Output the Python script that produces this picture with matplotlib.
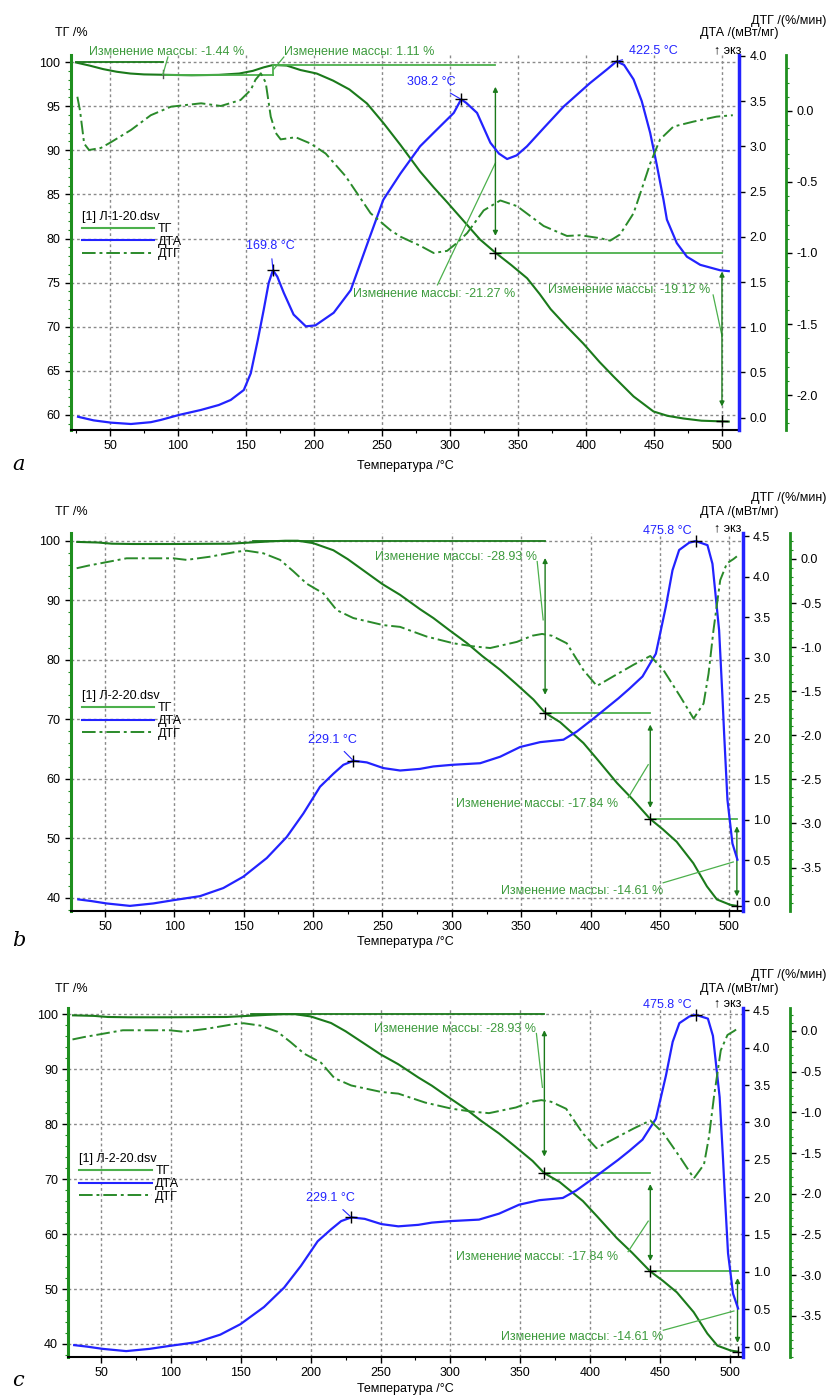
import matplotlib
matplotlib.use('Agg')
import matplotlib.pyplot as plt
from matplotlib.ticker import MultipleLocator, FormatStrFormatter
from matplotlib.lines import Line2D

plt.rcParams['font.family'] = ['Liberation Sans', 'DejaVu Sans']
plt.rcParams['axes.unicode_minus'] = False

W, H = 829, 1396

# ---------- образец Л-1-20 (панель a) ----------
a_tg_t = [25, 35, 45, 55, 65, 75, 89, 110, 130, 145, 155, 163, 170, 180, 190, 202, 214,
          226, 239, 251, 263.6, 278, 288, 298, 310, 322, 333.4, 345, 356.7, 366, 374,
          386, 398, 410, 420, 435, 449.6, 460, 471.7, 485, 498.6, 505]
a_tg = [99.95, 99.6, 99.2, 98.9, 98.7, 98.6, 98.56, 98.5, 98.55, 98.7, 99.0, 99.4, 99.67,
        99.6, 99.1, 98.7, 97.9, 96.9, 95.3, 93.1, 90.6, 87.6, 85.8, 84.1, 82.0, 79.9,
        78.4, 77.0, 75.5, 73.7, 72.0, 70.0, 68.1, 66.0, 64.4, 62.1, 60.4, 59.9, 59.6,
        59.35, 59.28, 59.25]

a_dta_t = [26.5, 38, 50.7, 65.4, 80, 87.4, 100.7, 116.8, 130, 138.8, 148.4, 153.5, 158.7,
           163, 166.7, 169.8, 173, 177.8, 185, 194, 201, 214.5, 227, 239.4, 251, 263.6,
           278, 288, 302.8, 308.2, 312, 319.9, 329.7, 336, 342, 349, 356.6, 370, 383.6,
           403, 415.4, 422.5, 428, 435, 441, 447.2, 452, 457, 459.5, 466.8, 474.2, 484,
           498.6, 505]
a_dta = [0.01, -0.03, -0.055, -0.07, -0.05, -0.025, 0.03, 0.085, 0.14, 0.196, 0.306, 0.49,
         0.86, 1.19, 1.49, 1.63, 1.56, 1.38, 1.14, 1.01, 1.02, 1.16, 1.41, 1.93, 2.41, 2.70,
         3.0, 3.15, 3.37, 3.52, 3.48, 3.37, 3.04, 2.92, 2.86, 2.90, 3.0, 3.22, 3.44, 3.70,
         3.85, 3.94, 3.90, 3.74, 3.5, 3.15, 2.8, 2.41, 2.19, 1.93, 1.78, 1.69, 1.63, 1.62]

a_dtg_t = [26, 28, 31, 34.6, 43.4, 50.7, 65.4, 80, 94.8, 117, 131.5, 146, 153.5, 157, 160.9,
           164.5, 168.2, 171.9, 175.5, 186.5, 197.6, 208.6, 223.3, 241.6, 256.3, 263.6,
           278.3, 288, 297.9, 305, 312.6, 324.8, 337, 349.3, 368.9, 386, 396, 410.5, 417.8,
           425, 435, 441, 447.2, 454.5, 464.3, 479, 496, 508]
a_dtg = [0.10, 0.0, -0.23, -0.275, -0.26, -0.22, -0.134, -0.03, 0.03, 0.054, 0.035, 0.077,
         0.148, 0.22, 0.265, 0.2, -0.04, -0.155, -0.2, -0.185, -0.23, -0.30, -0.46, -0.72,
         -0.84, -0.885, -0.95, -1.0, -0.985, -0.93, -0.86, -0.70, -0.63, -0.67, -0.81,
         -0.88, -0.875, -0.896, -0.913, -0.87, -0.72, -0.55, -0.37, -0.20, -0.11, -0.075,
         -0.04, -0.03]

a_peaks_t = [169.8, 308.2, 422.5]
a_peaks_v = [1.63, 3.52, 3.94]
a_peak_labels = ['169.8 °C', '308.2 °C', '422.5 °C']

# ---------- образец Л-2-20 (панели b и c) ----------
b_tg_t = [30, 45, 55, 70, 100, 140, 155, 170, 180, 189, 200, 214.6, 225, 238.7, 250,
          262.7, 277, 286.7, 298, 310.8, 322, 334.8, 346, 358.8, 367.2, 378, 394.8, 405,
          418.9, 430, 442.9, 452, 462, 474, 483.8, 491, 500.6, 505.4]
b_tg = [99.8, 99.7, 99.5, 99.45, 99.45, 99.5, 99.7, 99.9, 100.0, 100.0, 99.6, 98.4, 96.9,
        94.6, 92.7, 90.9, 88.5, 87.0, 85.0, 82.8, 80.6, 78.3, 76.0, 73.3, 71.07, 69.5,
        66.0, 63.2, 59.3, 56.6, 53.23, 51.5, 49.4, 45.8, 41.9, 39.7, 38.8, 38.62]

b_dta_t = [30.8, 40, 51.2, 68, 84.8, 99.2, 118.5, 135.3, 149.7, 166.6, 181, 193, 205, 214.6,
           221.8, 229.1, 238.7, 250.6, 262.7, 277, 286.7, 300, 320.4, 334.8, 349.2, 363.6,
           380.4, 390, 402, 420, 428, 437.4, 447, 454.2, 459, 463.8, 471, 475.8, 484.2,
           487.8, 490.2, 492.6, 495, 496.2, 498.6, 502.2, 505.8]
b_dta = [0.02, 0.0, -0.03, -0.06, -0.03, 0.01, 0.06, 0.16, 0.30, 0.53, 0.79, 1.08, 1.41,
         1.57, 1.68, 1.73, 1.71, 1.64, 1.61, 1.63, 1.66, 1.68, 1.70, 1.78, 1.90, 1.96, 1.99,
         2.09, 2.25, 2.5, 2.62, 2.77, 3.05, 3.63, 4.08, 4.33, 4.42, 4.44, 4.39, 4.16, 3.75,
         3.34, 2.52, 2.07, 1.25, 0.71, 0.51]

b_dtg_t = [29.6, 38, 46.4, 65.6, 99.2, 108.8, 125.7, 144.9, 152.1, 164.1, 176.2, 185.8,
           195.4, 207.4, 217, 229, 250.6, 262.7, 281.9, 301.1, 315, 327.6, 346.9, 358, 365,
           372, 382.8, 394.8, 404.5, 416.5, 430.9, 443, 452.5, 464.6, 474.2, 481.4, 485,
           488.6, 493.4, 498.2, 503, 505.4]
b_dtg = [-0.105, -0.075, -0.05, 0.008, 0.008, -0.01, 0.026, 0.083, 0.094, 0.065, -0.01,
         -0.14, -0.28, -0.39, -0.58, -0.67, -0.75, -0.77, -0.88, -0.956, -0.99, -1.01,
         -0.94, -0.87, -0.85, -0.87, -0.956, -1.26, -1.44, -1.33, -1.20, -1.10, -1.26,
         -1.56, -1.81, -1.64, -1.3, -0.80, -0.24, -0.05, 0.0, 0.03]

b_peaks_t = [229.1, 475.8]
b_peaks_v = [1.73, 4.44]
b_peak_labels = ['229.1 °C', '475.8 °C']

C_TG = '#1b7a1b'
C_DTG = '#2a8a2a'
C_DTA = '#2323ff'
C_ANN = '#4cb04c'
C_TXT = '#3c9a3c'


def px(x, y):
    return x / W, 1 - y / H


def make_panel(fig, rect, xlim, tg_lim, dta_lim, dtg_lim, tg_step, dta_top, dtg_bottom,
               tg_t, tg, dta_t, dta, dtg_t, dtg, fname):
    ax = fig.add_axes(rect)
    ax2 = ax.twinx()
    ax3 = ax.twinx()
    ax3.spines['right'].set_position(('outward', 34))

    ax.plot(tg_t, tg, color=C_TG, lw=1.5)
    ax2.plot(dta_t, dta, color=C_DTA, lw=1.6)
    ax3.plot(dtg_t, dtg, color=C_DTG, lw=1.4, dashes=(7, 2, 1.5, 2))

    ax.set_xlim(*xlim)
    ax.set_ylim(*tg_lim)
    ax2.set_ylim(*dta_lim)
    ax3.set_ylim(*dtg_lim)

    ax.xaxis.set_major_locator(MultipleLocator(50))
    ax.xaxis.set_minor_locator(MultipleLocator(25))
    ax.yaxis.set_major_locator(MultipleLocator(tg_step))
    ax.yaxis.set_minor_locator(MultipleLocator(tg_step / 5))
    ax2.set_yticks([i * 0.5 for i in range(int(dta_top / 0.5) + 1)])
    ax2.yaxis.set_major_formatter(FormatStrFormatter('%.1f'))
    ax3.set_yticks([-i * 0.5 for i in range(int(-dtg_bottom / 0.5) + 1)])
    ax3.yaxis.set_minor_locator(MultipleLocator(0.1))
    ax3.yaxis.set_major_formatter(FormatStrFormatter('%.1f'))

    ax.grid(True, which='major', color='#8a8a8a', ls=(0, (2, 2)), lw=1)

    for a in (ax, ax2, ax3):
        a.spines['top'].set_visible(False)
        a.tick_params(labelsize=9, length=4, width=1, color='k', direction='out')
        a.tick_params(which='minor', length=2, width=0.8)
    for a in (ax2, ax3):
        a.spines['left'].set_visible(False)
        a.spines['bottom'].set_visible(False)
    ax.spines['right'].set_visible(False)
    ax.spines['left'].set_color('#1f8f1f')
    ax.spines['left'].set_linewidth(2.2)
    ax.spines['bottom'].set_linewidth(1.5)
    ax2.spines['right'].set_color(C_DTA)
    ax2.spines['right'].set_linewidth(2.5)
    ax3.spines['right'].set_color('#1f8f1f')
    ax3.spines['right'].set_linewidth(2)
    ax.tick_params(axis='y', which='minor', color='#1f8f1f')
    ax3.tick_params(axis='y', which='minor', color='#1f8f1f')

    handles = [Line2D([], [], color=C_ANN, lw=1.5),
               Line2D([], [], color=C_DTA, lw=1.5),
               Line2D([], [], color=C_DTG, lw=1.4, dashes=(7, 2, 1.5, 2))]
    ax3.legend(handles, ['ТГ', 'ДТА', 'ДТГ'], title=fname, loc='upper left',
               bbox_to_anchor=(0.016, 0.585), frameon=False, handlelength=5.8,
               handletextpad=0.3, labelspacing=0.05, borderaxespad=0, borderpad=0,
               alignment='left', fontsize=9, title_fontsize=9)
    return ax, ax2, ax3


def step_arrow(ax, t, y1, y2):
    ax.annotate('', xy=(t, y1), xytext=(t, y2),
                arrowprops=dict(arrowstyle='<|-|>', color=C_TG, lw=1,
                                mutation_scale=7, shrinkA=0, shrinkB=0))


def leader(ax, x1, y1, x2, y2, color=C_ANN):
    ax.plot([x1, x2], [y1, y2], color=color, lw=0.9, clip_on=False)


def peak_marks(ax2, pt, pv, labels, text_xy):
    ax2.plot(pt, pv, '+', color='k', ms=8, mew=1)
    for t, v, lab, (tx, ty) in zip(pt, pv, labels, text_xy):
        ax2.annotate(lab, xy=(t, v), xytext=(tx, ty), ha='center', va='center',
                     color=C_DTA, fontsize=9,
                     arrowprops=dict(arrowstyle='-', color=C_DTA, lw=0.8,
                                     shrinkA=3, shrinkB=1))


fig = plt.figure(figsize=(W / 100, H / 100), dpi=100)

# ---------------- панель a ----------------
ax, ax2, ax3 = make_panel(fig, [0.0856, 0.6920, 0.8058, 0.2686], (21.3, 512.5),
                          (58.3, 100.8), (-0.136, 4.01), (-2.246, 0.394), 5, 4.0, -2.0,
                          a_tg_t, a_tg, a_dta_t, a_dta, a_dtg_t, a_dtg, '[1] Л-1-20.dsv')
ax.plot([25, 89], [100, 100], color=C_TG, lw=1.3)
ax.plot([89, 170], [98.56, 98.56], color=C_ANN, lw=1.3)
ax.plot([89, 89], [98.2, 99.1], color='#555', lw=1)
ax.plot([170, 170], [98.56, 99.67], color=C_ANN, lw=1.3)
ax.plot([170, 333.4], [99.67, 99.67], color=C_ANN, lw=1.3)
ax.plot([333.4, 500], [78.4, 78.4], color=C_ANN, lw=1.3)
ax.plot([333.4, 500], [78.4, 59.28], '+', color='k', ms=8, mew=1)
step_arrow(ax, 333.4, 97.2, 80.3)
step_arrow(ax, 500, 76.25, 60.96)
ax.text(34.6, 101.17, 'Изменение массы: -1.44 %', color=C_TXT, fontsize=9, va='center')
ax.text(177.8, 101.17, 'Изменение массы: 1.11 %', color=C_TXT, fontsize=9, va='center')
ax.text(228.4, 73.7, 'Изменение массы: -21.27 %', color=C_TXT, fontsize=9, va='center')
ax.text(372.3, 74.2, 'Изменение массы: -19.12 %', color=C_TXT, fontsize=9, va='center')
leader(ax, 92.6, 100.57, 88.9, 98.6)
leader(ax, 177.8, 100.57, 170.5, 99.2)
leader(ax, 290.8, 74.75, 333.4, 88.56)
leader(ax, 493.5, 73.6, 500.1, 68.9)
peak_marks(ax2, a_peaks_t, a_peaks_v, a_peak_labels,
           [(168.2, 1.90), (286.4, 3.71), (449.8, 4.05)])

# ---------------- панели b и c ----------------
rects = {'b': ([0.0856, 0.3476, 0.8103, 0.2706], (25.5, 509.6), (37.8, 101.3),
               (-0.12, 4.54), (-3.99, 0.295)),
         'c': ([0.0824, 0.0282, 0.8135, 0.2496], (26.6, 509.1), (37.7, 101.1),
               (-0.134, 4.53), (-4.0, 0.279))}
for key in ['b', 'c']:
    rect, xl, tgl, dtal, dtgl = rects[key]
    ax, ax2, ax3 = make_panel(fig, rect, xl, tgl, dtal, dtgl, 10, 4.5, -3.5,
                              b_tg_t, b_tg, b_dta_t, b_dta, b_dtg_t, b_dtg,
                              '[1] Л-2-20.dsv')
    ax.plot([157, 367.2], [100, 100], color=C_TG, lw=1.3)
    ax.plot([367.2, 443], [71.07, 71.07], color=C_ANN, lw=1.3)
    ax.plot([443, 505.4], [53.23, 53.23], color=C_ANN, lw=1.3)
    ax.plot([367.2, 443, 505.4], [71.07, 53.23, 38.62], '+', color='k', ms=8, mew=1)
    step_arrow(ax, 367.2, 97.1, 74.1)
    step_arrow(ax, 443, 69.1, 55.1)
    step_arrow(ax, 505.4, 52.0, 40.2)
    ax.text(361.5, 97.3, 'Изменение массы: -28.93 %', color=C_TXT, fontsize=9,
            va='center', ha='right')
    ax.text(420.1, 55.8, 'Изменение массы: -17.84 %', color=C_TXT, fontsize=9,
            va='center', ha='right')
    ax.text(452.5, 41.2, 'Изменение массы: -14.61 %', color=C_TXT, fontsize=9,
            va='center', ha='right')
    leader(ax, 361.5, 96.5, 365.8, 86.7)
    leader(ax, 427.1, 56.8, 441.5, 62.35)
    leader(ax, 452.3, 42.5, 502.8, 46.0)
    peak_marks(ax2, b_peaks_t, b_peaks_v, b_peak_labels, [(214, 1.99), (455.2, 4.57)])

# ---------------- подписи осей ----------------
heads = {'a': (33, 21, 50, 466, 464), 'b': (512, 498, 528, 942, 940),
         'c': (989, 975, 1003, 1389, 1380)}
for key, (y_tg, y_dtg, y_exo, y_x, y_let) in heads.items():
    fig.text(*px(55, y_tg), 'ТГ /%', fontsize=9, va='center')
    fig.text(*px(700, y_tg), 'ДТА /(мВт/мг)', fontsize=9, va='center')
    fig.text(*px(751, y_dtg), 'ДТГ /(%/мин)', fontsize=9, va='center')
    fig.text(*px(714, y_exo), '↑ экз', fontsize=9, va='center')
    fig.text(*px(405, y_x), 'Температура /°C', fontsize=9, va='center', ha='center')
    fig.text(*px(12, y_let), key, fontsize=15, style='italic', family='DejaVu Serif',
             va='center')

fig.savefig('out.png', dpi=100)
